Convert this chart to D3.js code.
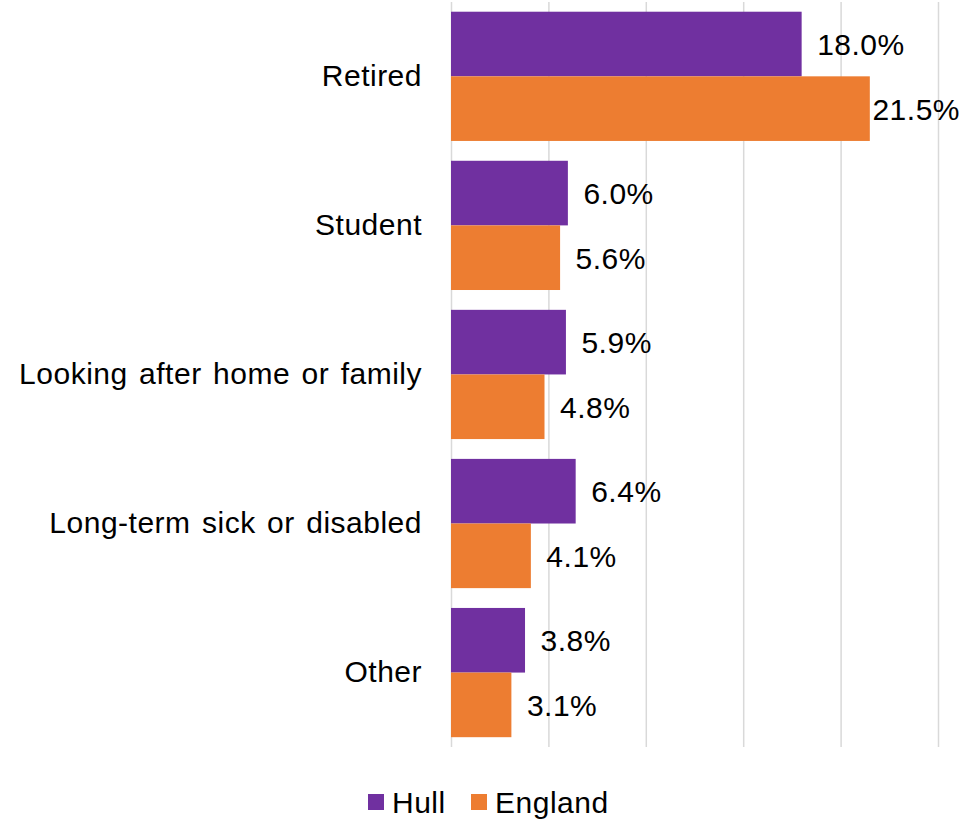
<!DOCTYPE html>
<html>
<head>
<meta charset="utf-8">
<script src="https://cdn.jsdelivr.net/npm/d3@7"></script>
<style>
  html, body { margin: 0; padding: 0; background: #fff; }
  svg { display: block; font-family: "Liberation Sans", Arial, sans-serif; }
  svg text { letter-spacing: 0.5px; word-spacing: 2.6px; }
</style>
</head>
<body>
<svg id="chart" width="967" height="827"></svg>
<script>
const categories = ["Retired", "Student", "Looking after home or family", "Long-term sick or disabled", "Other"];
const seriesNames = ["Hull", "England"];
const hull = [18.0, 6.0, 5.9, 6.4, 3.8];
const england = [21.5, 5.6, 4.8, 4.1, 3.1];
const tickValues = [0, 5, 10, 15, 20, 25];
const colors = ["#7030A0", "#ED7D31"];

const svg = d3.select("#chart");
const fontSize = 30;

const x = d3.scaleLinear().domain([0, 25]).range([451, 938]);
const y = d3.scaleBand().domain(categories).range([1.8, 747.1]).paddingInner(0.133).paddingOuter(0.0665);
const ySub = d3.scaleBand().domain(seriesNames).range([0, y.bandwidth()]);

// gridlines
const grid = svg.append("g")
  .attr("transform", "translate(0,747)")
  .call(d3.axisBottom(x).tickValues(tickValues).tickSize(-745).tickFormat(""));
grid.select(".domain").remove();
grid.selectAll(".tick line").attr("stroke", "#d9d9d9").attr("stroke-width", 1.5);

const rows = categories.map((c, i) => ({ cat: c, values: [hull[i], england[i]] }));

const groups = svg.append("g").selectAll("g").data(rows).join("g")
  .attr("transform", d => `translate(0,${y(d.cat)})`);

groups.selectAll("rect").data(d => d.values.map((v, j) => ({ s: seriesNames[j], v, j })))
  .join("rect")
  .attr("x", x(0))
  .attr("y", d => ySub(d.s))
  .attr("width", d => x(d.v) - x(0))
  .attr("height", ySub.bandwidth())
  .attr("fill", d => colors[d.j]);

// value labels
groups.selectAll("text").data(d => d.values.map((v, j) => ({ s: seriesNames[j], v, j })))
  .join("text")
  .attr("y", d => ySub(d.s) + ySub.bandwidth() / 2)
  .attr("dy", "0.37em")
  .attr("font-size", fontSize)
  .attr("fill", "#000")
  .text(d => d.v.toFixed(1) + "%")
  .each(function(d) {
    const w = this.getComputedTextLength();
    const xs = Math.min(x(d.v) + 15.5, 960 - w);
    d3.select(this).attr("x", xs);
  });

// category axis labels
const yAxis = svg.append("g")
  .attr("transform", `translate(${x(0)},0)`)
  .call(d3.axisLeft(y).tickSize(0).tickPadding(29));
yAxis.select(".domain").remove();
yAxis.selectAll("text")
  .attr("font-size", fontSize)
  .attr("font-family", '"Liberation Sans", Arial, sans-serif')
  .attr("fill", "#000");

// legend
const legend = svg.append("g");
const legendItems = [{ name: "Hull", x: 368 }, { name: "England", x: 471 }];
legendItems.forEach((it, i) => {
  legend.append("rect").attr("x", it.x).attr("y", 794).attr("width", 16).attr("height", 16).attr("fill", colors[i]);
  legend.append("text").attr("x", it.x + 24).attr("y", 813).attr("font-size", fontSize).attr("fill", "#000").text(it.name);
});
</script>
</body>
</html>
